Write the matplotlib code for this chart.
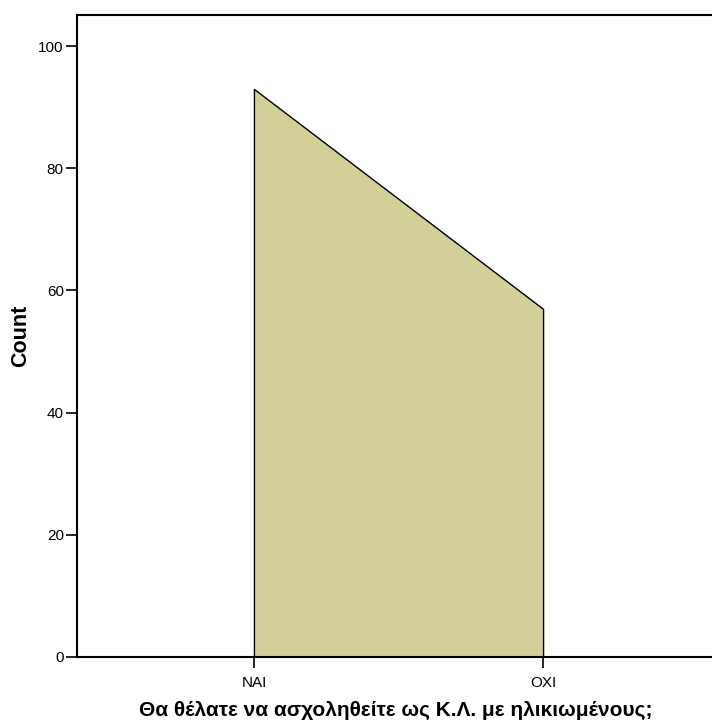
import matplotlib
matplotlib.use("Agg")
import matplotlib.pyplot as plt

categories = ["NAI", "OXI"]
counts = [93, 57]
y_ticks = [0, 20, 40, 60, 80, 100]

plt.rcParams['font.family'] = ['Liberation Sans', 'DejaVu Sans']

fig = plt.figure(figsize=(7.12, 7.20), dpi=100)
# the right edge of the frame lies just outside the picture, as in the original
ax = fig.add_axes([77 / 712, 1 - 657 / 720, 643 / 712, 642 / 720])

x = list(range(len(categories)))
ax.fill_between(x, counts, 0, facecolor='#d3cf99', edgecolor='black', linewidth=1.0)

ax.set_xlim(-0.612, 1.612)
ax.set_ylim(0, 105.1)
ax.set_xticks(x)
ax.set_xticklabels(categories)
ax.set_yticks(y_ticks)

for side in ['left', 'bottom', 'top', 'right']:
    ax.spines[side].set_linewidth(1.5)
ax.tick_params(axis='both', direction='out', length=8, width=1.2, labelsize=11)
ax.tick_params(axis='x', pad=6)
ax.tick_params(axis='y', pad=1.5)

ax.set_ylabel("Count", fontsize=15.5, fontweight='bold')
ax.set_xlabel("Θα θέλατε να ασχοληθείτε ως Κ.Λ. με ηλικιωμένους;", fontsize=15, fontweight='bold')
ax.yaxis.set_label_coords(-0.071, 0.5)
ax.xaxis.set_label_coords(0.495, -0.068)

fig.savefig("out.png", dpi=100)
